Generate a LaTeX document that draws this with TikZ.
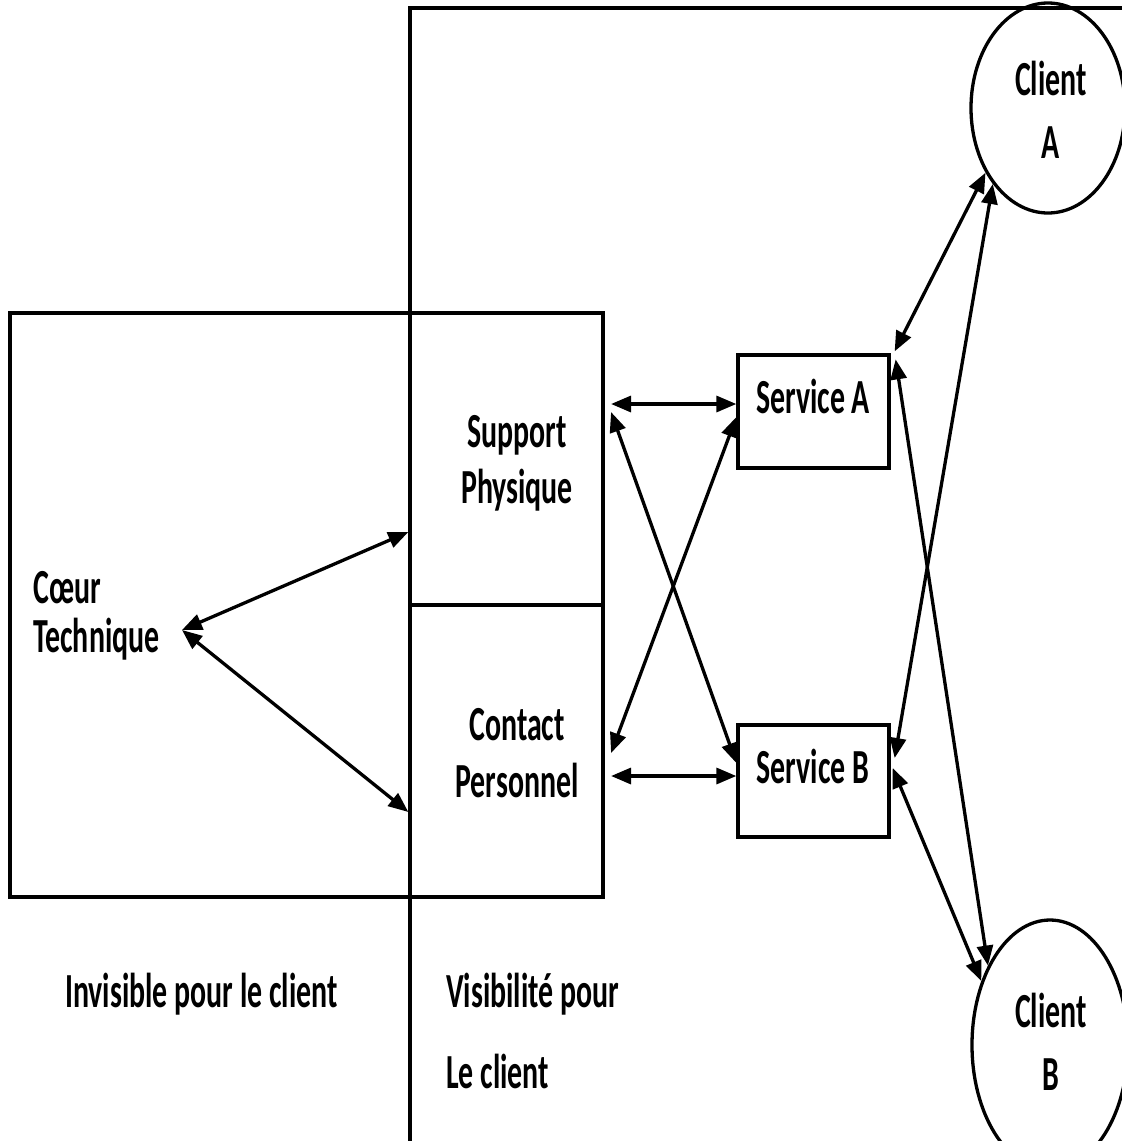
\documentclass[tikz,border=0pt]{standalone}
\usepackage{fontspec}
\setmainfont{Carlito}[FakeStretch=0.61]
\usetikzlibrary{arrows.meta,shapes.geometric}
\begin{document}
\begin{tikzpicture}[x=1pt,y=-1pt,
  boxframe/.style={draw, rectangle, line width=3.3pt, inner sep=0pt},
  clientshape/.style={draw, ellipse, line width=3.3pt, inner sep=0pt},
  lbl/.style={inner sep=0pt, anchor=base, font=\fontsize{49}{56}\selectfont\bfseries},
  lbll/.style={lbl, anchor=base west},
  biarrow/.style={line width=3.3pt,
    {Triangle[length=20pt,width=16pt]}-{Triangle[length=20pt,width=16pt]}}]

\path[use as bounding box] (0,0) rectangle (1122,1141);
\clip (0,0) rectangle (1122,1141);

% zone visible by the client (open to the right and bottom)
\node[boxframe, minimum width=730pt, minimum height=1152pt] (visible) at (775,584) {};
% zone hidden from the client
\node[boxframe, minimum width=593pt, minimum height=584pt] (hidden) at (306.5,605) {};

% interface boxes
\node[boxframe, minimum width=193pt, minimum height=292pt] (support) at (506.5,459) {};
\node[boxframe, minimum width=193pt, minimum height=292pt] (contact) at (506.5,751) {};

% services
\node[boxframe, minimum width=151pt, minimum height=113pt] (serviceA) at (813.5,411.5) {};
\node[boxframe, minimum width=151pt, minimum height=112pt] (serviceB) at (813.5,781) {};

% clients
\node[clientshape, minimum width=154pt, minimum height=210pt] (clientA) at (1048,108) {};
\node[clientshape, minimum width=156pt, minimum height=250pt] (clientB) at (1050,1045) {};

% labels
\node[lbll] (coeur1) at (33,603) {Cœur};
\node[lbll] (coeur2) at (33,652) {Technique};
\node[lbl] (sup1) at (517,447) {Support};
\node[lbl] (sup2) at (517,503) {Physique};
\node[lbl] (con1) at (517,740) {Contact};
\node[lbl] (con2) at (517,797) {Personnel};
\node[lbl] (svA) at (813,413) {Service A};
\node[lbl] (svB) at (813,783) {Service B};
\node[lbl] (clA1) at (1051,95) {Client};
\node[lbl] (clA2) at (1051,158) {A};
\node[lbl] (clB1) at (1051,1027) {Client};
\node[lbl] (clB2) at (1051,1090) {B};
\node[lbll] (inv) at (65,1007) {Invisible pour le client};
\node[lbll] (vis1) at (446,1007) {Visibilité pour};
\node[lbll] (vis2) at (446,1088) {Le client};

% connectors
\coordinate (hub) at (182,630);
\draw[biarrow] (hub) -- ([shift={(0,73)}]support.west);
\draw[biarrow] (hub) -- ([shift={(0,61)}]contact.west);

\draw[biarrow] ([shift={(6.4,-55)}]support.east) -- ([shift={(0,-7.5)}]serviceA.west);
\draw[biarrow] ([shift={(6.4,25)}]contact.east) -- ([shift={(0,-5)}]serviceB.west);
\draw[biarrow] ([shift={(6.4,-47)}]support.east) -- ([shift={(0,-18)}]serviceB.west);
\draw[biarrow] ([shift={(0,5.5)}]serviceA.west) -- ([shift={(6.4,2)}]contact.east);

\draw[biarrow] (clientA.226) -- ([shift={(4,-2)}]serviceA.north east);
\draw[biarrow] (clientA.234) -- ([shift={(4,-23)}]serviceB.east);
\draw[biarrow] ([shift={(5,6)}]serviceA.north east) -- (clientB.128);
\draw[biarrow] ([shift={(2,-13)}]serviceB.east) -- (clientB.137);

\end{tikzpicture}
\end{document}
